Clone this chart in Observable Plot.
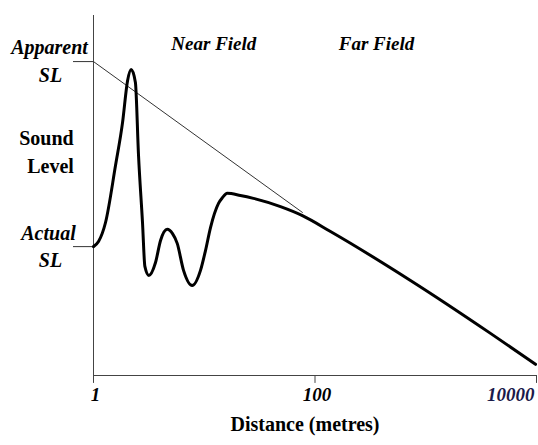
<!DOCTYPE html>
<html>
<head>
<meta charset="utf-8">
<script src="https://cdn.jsdelivr.net/npm/d3@7"></script>
<script src="https://cdn.jsdelivr.net/npm/@observablehq/plot@0.6"></script>
<style>
  html, body { margin: 0; padding: 0; background: #fff; }
  svg { display: block; }
  svg text { font-family: "Liberation Serif", "Times New Roman", serif !important; }
</style>
</head>
<body>
<div id="chart"></div>
<script>
// Distance (metres, log scale) and relative sound level (arbitrary units, 0–100)
const distance = [1.00, 1.11, 1.284, 1.58, 1.83, 2.03, 2.19, 2.39, 2.55, 2.77, 2.91, 3.16, 3.63, 4.03, 4.63, 5.17, 5.70, 6.50, 7.78, 9.25, 10.26, 11.39, 13.45, 14.6, 16.12, 21.2, 27.8, 48.8, 77, 138, 728, 3843, 9795];
const level    = [35.8, 37.2, 42.5, 58.3, 70.3, 81.9, 85.0, 81.4, 61.1, 42.5, 30.3, 27.8, 31.4, 37.5, 40.6, 39.4, 36.7, 29.2, 25.0, 29.2, 34.7, 41.1, 47.8, 49.4, 50.6, 50.0, 49.2, 46.9, 44.4, 40.0, 26.4, 11.7, 3.1];

// Straight-line (apparent source level) extrapolation
const apparentDistance = [1, 77];
const apparentLevel = [87.2, 45.3];

// Reference levels on the y axis
const apparentSL = 87.2;
const actualSL = 35.8;

// X tick labels
const xTicks = [1, 100, 10000];
const xTickLabels = ["1", "100", "10000"];
const xLabel = "Distance (metres)";

// Region labels
const fieldNames = ["Near Field", "Far Field"];
const fieldDistance = [12.2, 359];
const fieldLevel = 92.0;

const curve = distance.map((d, i) => ({d, v: level[i]}));
const apparent = apparentDistance.map((d, i) => ({d, v: apparentLevel[i]}));
const fields = fieldNames.map((t, i) => ({t, d: fieldDistance[i]}));
const ticks = xTicks.map((d, i) => ({d, t: xTickLabels[i]}));

const serif = "Liberation Serif";
const T = {fontFamily: serif, fill: "#000", fontWeight: "bold"};

const plot = Plot.plot({
  width: 538,
  height: 445,
  marginLeft: 93,
  marginRight: 2,
  marginTop: 15,
  marginBottom: 70,
  style: {fontFamily: serif, background: "#fff", color: "#000"},
  x: {type: "log", domain: [1, 10000], axis: null},
  y: {domain: [0, 100], axis: null},
  marks: [
    // axes lines
    Plot.ruleX([1], {stroke: "#444", strokeWidth: 1}),
    Plot.ruleY([0], {stroke: "#444", strokeWidth: 1}),
    // x tick marks
    Plot.ruleX(xTicks, {x: d => d, y1: 0, y2: -2.2, stroke: "#444", strokeWidth: 1}),
    // y reference ticks (Apparent SL, Actual SL)
    Plot.ruleY([apparentSL, actualSL], {y: d => d, x1: 0.66, x2: 1, stroke: "#333", strokeWidth: 1}),
    // apparent extrapolation line
    Plot.line(apparent, {x: "d", y: "v", stroke: "#333", strokeWidth: 1}),
    // sound level curve
    Plot.line(curve, {x: "d", y: "v", stroke: "#000", strokeWidth: 3, curve: "monotone-x", strokeLinejoin: "round"}),
    // left labels
    Plot.text(["Apparent"], {...T, x: () => 1, y: () => 91.2, dx: -44, text: d => d, fontSize: 20, fontStyle: "italic"}),
    Plot.text(["SL"], {...T, x: () => 1, y: () => 83.4, dx: -43, text: d => d, fontSize: 20, fontStyle: "italic"}),
    Plot.text(["Sound"], {...T, x: () => 1, y: () => 65.7, dx: -47, text: d => d, fontSize: 20}),
    Plot.text(["Level"], {...T, x: () => 1, y: () => 57.9, dx: -43, text: d => d, fontSize: 20}),
    Plot.text(["Actual"], {...T, x: () => 1, y: () => 39.3, dx: -45, text: d => d, fontSize: 20, fontStyle: "italic"}),
    Plot.text(["SL"], {...T, x: () => 1, y: () => 31.9, dx: -43, text: d => d, fontSize: 20, fontStyle: "italic"}),
    // field labels
    Plot.text(fields, {...T, x: "d", y: () => fieldLevel, text: "t", fontSize: 19, fontStyle: "italic"}),
    // x tick labels
    Plot.text(ticks.slice(0, 2), {...T, x: "d", frameAnchor: "bottom", dy: 25, dx: 2, text: "t", fontSize: 19, fontStyle: "italic"}),
    Plot.text(ticks.slice(2), {...T, x: "d", frameAnchor: "bottom", dy: 25, dx: -2, textAnchor: "end", text: "t", fontSize: 19, fontStyle: "italic", fill: "#1a1a4a"}),
    // x axis label
    Plot.text([xLabel], {...T, frameAnchor: "bottom", dy: 55, dx: -10, text: d => d, fontSize: 20})
  ]
});

document.getElementById("chart").appendChild(plot);
</script>
</body>
</html>
